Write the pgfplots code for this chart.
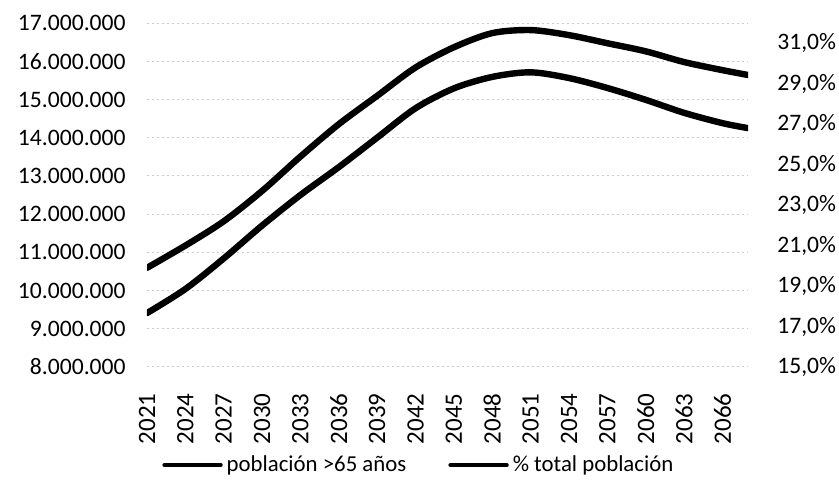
\documentclass[border=0pt]{standalone}
\usepackage{fontspec}
\setmainfont{Carlito}
\usepackage{pgfplots}
\pgfplotsset{compat=1.18}
\usetikzlibrary{calc}

\pgfplotstableread{
year pob
2021 9410000
2024 10040000
2027 10840000
2030 11700000
2033 12500000
2036 13230000
2039 14000000
2042 14770000
2045 15290000
2048 15590000
2051 15710000
2054 15560000
2057 15300000
2060 14990000
2063 14650000
2066 14380000
2068 14250000
}\pobdata

\pgfplotstableread{
year pct
2021 19.9
2024 21.0
2027 22.2
2030 23.7
2033 25.4
2036 27.0
2039 28.4
2042 29.8
2045 30.8
2048 31.5
2051 31.65
2054 31.4
2057 31.0
2060 30.6
2063 30.07
2066 29.67
2068 29.43
}\pctdata

\begin{document}
\begin{tikzpicture}
\pgfplotsset{
  common/.style={
    scale only axis, width=300.5pt, height=172pt,
    xmin=2021, xmax=2068,
    axis line style={draw=none},
    major tick length=0pt,
    scaled y ticks=false, scaled x ticks=false,
    tick label style={font=\fontsize{11.8pt}{14pt}\selectfont},
  }
}
\begin{axis}[common, name=ax,
  ymin=8000000, ymax=17000000,
  ytick={8000000,9000000,10000000,11000000,12000000,13000000,14000000,15000000,16000000,17000000},
  yticklabels={8.000.000,9.000.000,10.000.000,11.000.000,12.000.000,13.000.000,14.000.000,15.000.000,16.000.000,17.000.000},
  ymajorgrids,
  major grid style={gray!40, line width=0.5pt, dash pattern=on 1pt off 1.5pt},
  xtick={2021,2024,2027,2030,2033,2036,2039,2042,2045,2048,2051,2054,2057,2060,2063,2066},
  xticklabels={2021,2024,2027,2030,2033,2036,2039,2042,2045,2048,2051,2054,2057,2060,2063,2066},
  xticklabel style={rotate=90, anchor=east, inner sep=0pt, font=\fontsize{12.5pt}{14pt}\selectfont},
  xticklabel shift=13pt,
  yticklabel style={inner sep=0pt},
  yticklabel shift=10.5pt,
  legend style={at={(0.454,-0.285)}, anchor=center, draw=none, fill=none,
    legend columns=2, inner sep=0pt,
    /tikz/every even column/.append style={column sep=19pt},
    font=\fontsize{11.4pt}{14pt}\selectfont},
  legend image code/.code={\draw[line width=2.2pt, line cap=round] (0pt,0pt) -- (28pt,0pt);},
]
\addplot[black, line width=3.2pt, line cap=round, smooth] table[x=year, y=pob] {\pobdata};
\addlegendentry{población >65 años}
\addlegendimage{black, line width=3.2pt}
\addlegendentry{\% total población}
\end{axis}
\begin{axis}[common,
  ymin=15, ymax=32,
  xtick=\empty,
  ytick={15,17,19,21,23,25,27,29,31},
  yticklabels={{15,0\%},{17,0\%},{19,0\%},{21,0\%},{23,0\%},{25,0\%},{27,0\%},{29,0\%},{31,0\%}},
  yticklabel pos=right,
  yticklabel style={inner sep=0pt, anchor=west},
  yticklabel shift=14.5pt,
]
\addplot[black, line width=3.2pt, line cap=round, smooth] table[x=year, y=pct] {\pctdata};
\end{axis}
\pgfresetboundingbox
\path[use as bounding box] ($(ax.south west)+(-73.5pt,-58.5pt)$) rectangle ($(ax.north east)+(45.5pt,11.5pt)$);
\end{tikzpicture}
\end{document}
